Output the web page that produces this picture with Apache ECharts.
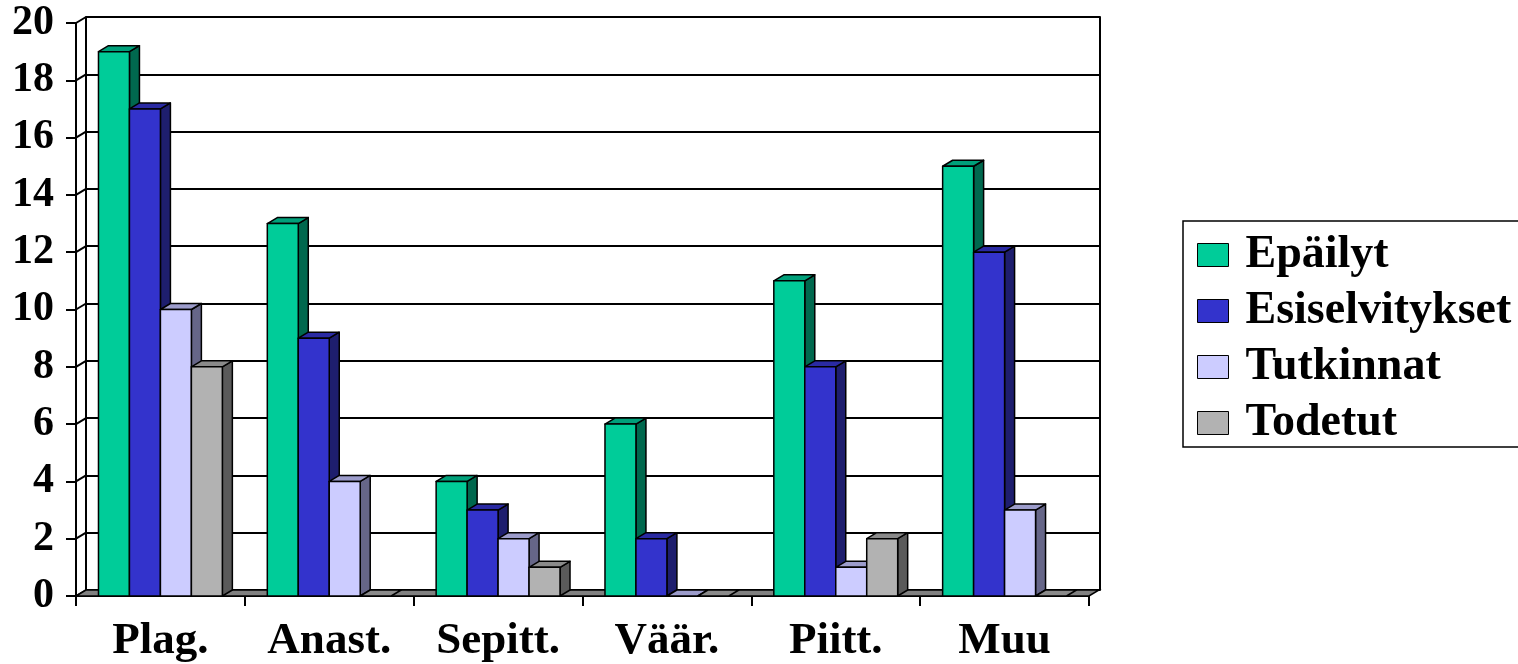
<!DOCTYPE html>
<html>
<head>
<meta charset="utf-8">
<script src="https://cdn.jsdelivr.net/npm/echarts@6/dist/echarts.min.js"></script>
<style>
html,body{margin:0;padding:0;background:#fff;}
#chart{width:1518px;height:664px;}
</style>
</head>
<body>
<div id="chart"></div>
<script>
const categories = ['Plag.', 'Anast.', 'Sepitt.', 'Väär.', 'Piitt.', 'Muu'];
const seriesNames = ['Epäilyt', 'Esiselvitykset', 'Tutkinnat', 'Todetut'];
const epailyt = [19, 13, 4, 6, 11, 15];
const esiselvitykset = [17, 9, 3, 2, 8, 12];
const tutkinnat = [10, 4, 2, 0, 1, 3];
const todetut = [8, 0, 1, 0, 2, 0];
const yTicks = [0, 2, 4, 6, 8, 10, 12, 14, 16, 18, 20];

const seriesValues = [epailyt, esiselvitykset, tutkinnat, todetut];
const frontColors = ['#00CC99', '#3333CC', '#CCCCFF', '#B2B2B2'];
const topColors = ['#00A07A', '#2A2AA3', '#9C9CCB', '#8A8A8A'];
const sideColors = ['#00684E', '#1E1E6E', '#666688', '#5A5A5A'];
const DX = 10, DY = -6;
const FONT = 'Liberation Serif';

function barRenderer(sIdx) {
  return function (params, api) {
    const i = api.value(0), v = api.value(1);
    const base = api.coord([i, 0]);
    const top = api.coord([i, v]);
    const band = api.size([1, 0])[0];
    const bw = band * 31 / 169;
    const x0 = base[0] - 2 * bw + sIdx * bw;
    const x1 = x0 + bw;
    const yb = base[1], yt = top[1];
    const st = { stroke: '#000', lineWidth: 1.5, lineJoin: 'round' };
    const children = [];
    if (yb - yt > 0.5) {
      children.push({ type: 'polygon', shape: { points: [[x1, yb], [x1 + DX, yb + DY], [x1 + DX, yt + DY], [x1, yt]] },
        style: Object.assign({ fill: sideColors[sIdx] }, st) });
    }
    children.push({ type: 'polygon', shape: { points: [[x0, yt], [x0 + DX, yt + DY], [x1 + DX, yt + DY], [x1, yt]] },
      style: Object.assign({ fill: topColors[sIdx] }, st) });
    if (yb - yt > 0.5) {
      children.push({ type: 'rect', shape: { x: x0, y: yt, width: bw, height: yb - yt },
        style: Object.assign({ fill: frontColors[sIdx] }, st) });
    }
    return { type: 'group', children: children };
  };
}

const barSeries = seriesNames.map((name, s) => ({
  name: name,
  type: 'custom',
  xAxisIndex: 0, yAxisIndex: 0,
  z: 5 + s,
  itemStyle: { color: frontColors[s], borderColor: '#000', borderWidth: 1 },
  renderItem: barRenderer(s),
  encode: { x: 0, y: 1 },
  data: seriesValues[s].map((v, i) => [i, v])
}));

const connectorSeries = {
  type: 'custom',
  xAxisIndex: 0, yAxisIndex: 0,
  z: 3,
  silent: true,
  renderItem: function (params, api) {
    const p = api.coord([0, api.value(1)]);
    const band = api.size([1, 0])[0];
    const x = p[0] - band / 2;
    return { type: 'line', shape: { x1: x, y1: p[1], x2: x + DX, y2: p[1] + DY },
      style: { stroke: '#000', lineWidth: 2 } };
  },
  encode: { x: 0, y: 1 },
  data: yTicks.map(v => [0, v])
};

const floorSeries = {
  type: 'custom',
  xAxisIndex: 0, yAxisIndex: 0,
  z: 4,
  silent: true,
  renderItem: function (params, api) {
    const band = api.size([1, 0])[0];
    const a = api.coord([0, 0]);
    const b = api.coord([categories.length - 1, 0]);
    const xl = a[0] - band / 2, xr = b[0] + band / 2, y = a[1];
    return { type: 'polygon', shape: { points: [[xl, y], [xr, y], [xr + DX, y + DY], [xl + DX, y + DY]] },
      style: { fill: '#808080', stroke: '#000', lineWidth: 1.5 } };
  },
  encode: { x: 0, y: 1 },
  data: [[0, 0]]
};

const chart = echarts.init(document.getElementById('chart'));
chart.setOption({
  animation: false,
  backgroundColor: '#fff',
  grid: [
    { left: 76, top: 23, width: 1013, height: 573 },
    { left: 76 + DX, top: 23 + DY, width: 1013 + 1, height: 573 }
  ],
  xAxis: [
    { type: 'category', gridIndex: 0, data: categories,
      axisLine: { lineStyle: { color: '#000', width: 2 } },
      axisTick: { show: true, length: 10, lineStyle: { color: '#000', width: 2 } },
      axisLabel: { color: '#000', fontFamily: FONT, fontWeight: 'bold', fontSize: 45, margin: 23 },
      splitLine: { show: false } },
    { type: 'category', gridIndex: 1, data: categories, show: false }
  ],
  yAxis: [
    { type: 'value', gridIndex: 0, min: 0, max: 20, interval: 2,
      axisLine: { show: true, lineStyle: { color: '#000', width: 2 } },
      axisTick: { show: true, length: 10, lineStyle: { color: '#000', width: 2 } },
      axisLabel: { color: '#000', fontFamily: FONT, fontWeight: 'bold', fontSize: 42, margin: 22 },
      splitLine: { show: false } },
    { type: 'value', gridIndex: 1, min: 0, max: 20, interval: 2, position: 'left',
      axisLine: { show: true, lineStyle: { color: '#000', width: 2 } },
      axisTick: { show: false }, axisLabel: { show: false },
      splitLine: { show: true, lineStyle: { color: '#000', width: 2 } } },
    { type: 'value', gridIndex: 1, min: 0, max: 20, interval: 2, position: 'right',
      axisLine: { show: true, lineStyle: { color: '#000', width: 2 } },
      axisTick: { show: false }, axisLabel: { show: false }, splitLine: { show: false } }
  ],
  legend: {
    orient: 'vertical',
    left: 1183, top: 221,
    data: seriesNames,
    icon: 'rect',
    itemWidth: 31, itemHeight: 23,
    itemGap: 10,
    padding: [11, 80, 1, 14],
    borderColor: '#000', borderWidth: 1.5,
    itemStyle: { borderColor: '#000', borderWidth: 1 },
    textStyle: { color: '#000', fontFamily: FONT, fontWeight: 'bold', fontSize: 46, padding: [0, 0, 0, 12] },
    selectedMode: false
  },
  series: [connectorSeries, floorSeries].concat(barSeries)
});
</script>
</body>
</html>
